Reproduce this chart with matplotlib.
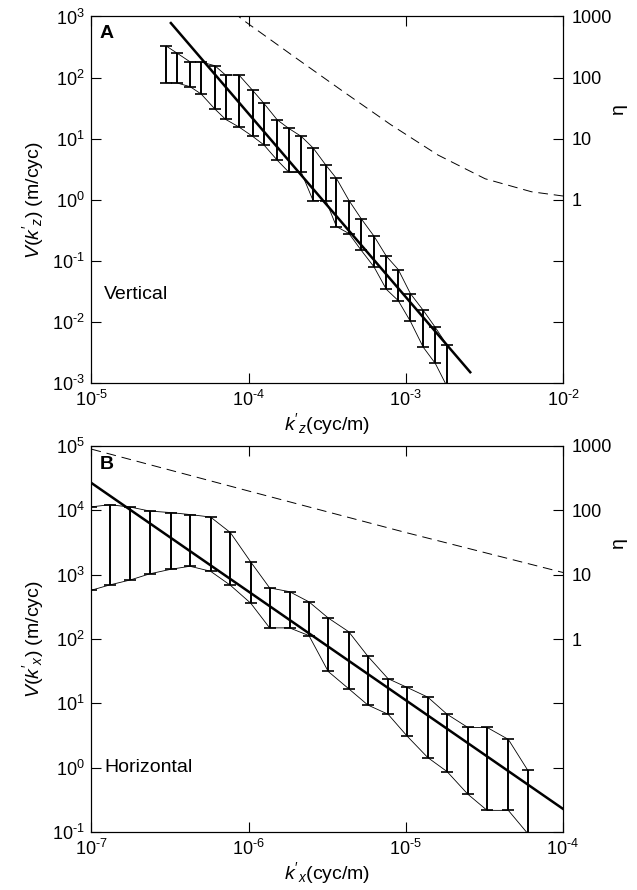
import matplotlib
matplotlib.use("Agg")
import matplotlib.pyplot as plt
from matplotlib.ticker import FixedLocator, FixedFormatter, NullLocator, FuncFormatter
import numpy as np

plt.rcParams.update({
    'font.family': ['Liberation Sans', 'DejaVu Sans'],
    'mathtext.fontset': 'custom',
    'mathtext.rm': 'Liberation Sans',
    'mathtext.it': 'Liberation Sans:italic',
    'mathtext.default': 'regular',
    'axes.unicode_minus': False,
    'font.size': 13,
})

# ---- panel A: vertical wavenumber spectrum ----
kz = [2.99e-5, 3.52e-5, 4.25e-5, 4.99e-5, 6.10e-5, 7.13e-5, 8.68e-5, 1.06e-4,
      1.25e-4, 1.52e-4, 1.80e-4, 2.16e-4, 2.57e-4, 3.10e-4, 3.62e-4, 4.35e-4,
      5.20e-4, 6.27e-4, 7.52e-4, 8.95e-4, 1.07e-3, 1.29e-3, 1.54e-3, 1.82e-3]
vz_hi = [328, 249, 180, 180, 156, 110, 110, 61.7, 37.8, 20.3, 14.7, 10.9,
         7.05, 3.68, 2.23, 0.970, 0.489, 0.254, 0.119, 0.072, 0.029, 0.0155,
         0.00813, 0.00425]
vz_lo = [82.2, 81.3, 70.7, 53.7, 30.5, 20.7, 15.5, 10.9, 7.91, 4.44, 2.83, 2.83,
         0.970, 0.970, 0.364, 0.279, 0.149, 0.0798, 0.0341, 0.0223, 0.0102,
         0.00386, 0.00209, 0.0009]
kz_fit = [3.2e-5, 2.57e-3]
vz_fit = [780, 1.5e-3]
kz_eta = [8.0e-5, 9e-5, 1e-4, 2e-4, 4e-4, 8e-4, 1.6e-3, 3.2e-3, 6.3e-3, 1e-2]
eta_z = [1200, 915, 752, 209, 59, 17, 5.4, 2.2, 1.35, 1.15]
kz_ticks = [1e-5, 1e-4, 1e-3, 1e-2]
vz_ticks = [1e-3, 1e-2, 1e-1, 1, 10, 100, 1000]

# ---- panel B: horizontal wavenumber spectrum ----
kx = [1.00e-7, 1.31e-7, 1.77e-7, 2.35e-7, 3.19e-7, 4.23e-7, 5.72e-7, 7.64e-7,
      1.03e-6, 1.36e-6, 1.82e-6, 2.42e-6, 3.21e-6, 4.33e-6, 5.74e-6, 7.71e-6,
      1.02e-5, 1.38e-5, 1.83e-5, 2.48e-5, 3.29e-5, 4.49e-5, 5.97e-5]
vx_hi = [11300, 12200, 11200, 9720, 9210, 8580, 7850, 4520, 1580, 622, 544, 378,
         212, 130, 53.8, 24.2, 17.7, 12.5, 6.79, 4.23, 4.23, 2.76, 0.914]
vx_lo = [574, 693, 828, 1030, 1210, 1350, 1130, 686, 361, 149, 149, 113, 31.3,
         16.9, 9.42, 6.79, 3.10, 1.44, 0.873, 0.389, 0.218, 0.218, 0.095]
kx_fit = [1e-7, 1e-4]
vx_fit = [26500, 0.23]
kx_eta = [1e-7, 1e-6, 1e-5, 1e-4]
eta_x = [890, 199, 45.1, 10.8]
kx_ticks = [1e-7, 1e-6, 1e-5, 1e-4]
vx_ticks = [1e-1, 1, 10, 100, 1e3, 1e4, 1e5]

eta_ticks = [1e-3, 1e-2, 1e-1, 1, 10, 100, 1000]
eta_labels = ['', '', '', '1', '10', '100', '1000']


def pow10(v, pos):
    e = int(round(np.log10(v)))
    if e < 0:
        return r'$10^{\text{-}%d}$' % (-e)
    return r'$10^{%d}$' % e


def spectrum_panel(fig, rect, k, hi, lo, k_fit, v_fit, k_eta, eta,
                   xticks, yticks, letter, name, name_xy, ylab, xlab):
    ax = fig.add_axes(rect)
    ax.set_xscale('log')
    ax.set_yscale('log')
    xlim = (xticks[0], xticks[-1])
    ax.set_xlim(*xlim)
    ax.set_ylim(yticks[0], yticks[-1])

    # envelopes + bars
    ax.plot(k, hi, color='k', lw=0.6)
    ax.plot(k, lo, color='k', lw=0.6)
    mid = [(h * l) ** 0.5 for h, l in zip(hi, lo)]
    err = [[m - l for m, l in zip(mid, lo)], [h - m for h, m in zip(hi, mid)]]
    ax.errorbar(k, mid, yerr=err, fmt='none', ecolor='k', elinewidth=1.4,
                capsize=4, capthick=1.2)
    ax.plot(k_fit, v_fit, color='k', lw=1.8)

    ax.xaxis.set_major_locator(FixedLocator(xticks))
    ax.yaxis.set_major_locator(FixedLocator(yticks))
    ax.xaxis.set_minor_locator(NullLocator())
    ax.yaxis.set_minor_locator(NullLocator())
    ax.xaxis.set_major_formatter(FuncFormatter(pow10))
    ax.yaxis.set_major_formatter(FuncFormatter(pow10))
    ax.tick_params(which='major', direction='in', length=7, width=0.8,
                   top=True, right=False, labelsize=13, pad=5)
    ax.set_ylabel(ylab, fontsize=14, labelpad=4)
    ax.set_xlabel(xlab, fontsize=14, labelpad=1)
    ax.text(0.032, 0.953, letter, transform=ax.transAxes, fontsize=14,
            fontweight='bold', ha='center', va='center')
    ax.text(name_xy[0], name_xy[1], name, fontsize=14, ha='left', va='center')

    ax2 = ax.twinx()
    ax2.set_yscale('log')
    ax2.set_ylim(eta_ticks[0], eta_ticks[-1])
    ax2.plot(k_eta, eta, color='k', lw=0.7, linestyle=(0, (10, 6)))
    ax2.yaxis.set_major_locator(FixedLocator(eta_ticks))
    ax2.yaxis.set_major_formatter(FixedFormatter(eta_labels))
    ax2.yaxis.set_minor_locator(NullLocator())
    ax2.tick_params(which='major', direction='in', length=7, width=0.8,
                    labelsize=13, pad=6)
    ax2.set_ylabel('η', fontsize=14, rotation=90)
    ax2.yaxis.set_label_coords(1.10, 0.75)
    ax.set_xlim(*xlim)
    return ax


fig = plt.figure(figsize=(6.37, 8.90), dpi=100)

spectrum_panel(fig, [0.1436, 0.5697, 0.7402, 0.4118], kz, vz_hi, vz_lo,
               kz_fit, vz_fit, kz_eta, eta_z, kz_ticks, vz_ticks,
               'A', 'Vertical', (1.2e-5, 10 ** -1.55),
               r"$\it{V}(\it{k}'_{\it{z}})$ (m/cyc)", r"$\it{k}'_{\it{z}}$(cyc/m)")

spectrum_panel(fig, [0.1436, 0.0650, 0.7402, 0.4340], kx, vx_hi, vx_lo,
               kx_fit, vx_fit, kx_eta, eta_x, kx_ticks, vx_ticks,
               'B', 'Horizontal', (1.2e-7, 1.0),
               r"$\it{V}(\it{k}'_{\it{x}})$ (m/cyc)", r"$\it{k}'_{\it{x}}$(cyc/m)")

fig.savefig('out.png', dpi=100)
